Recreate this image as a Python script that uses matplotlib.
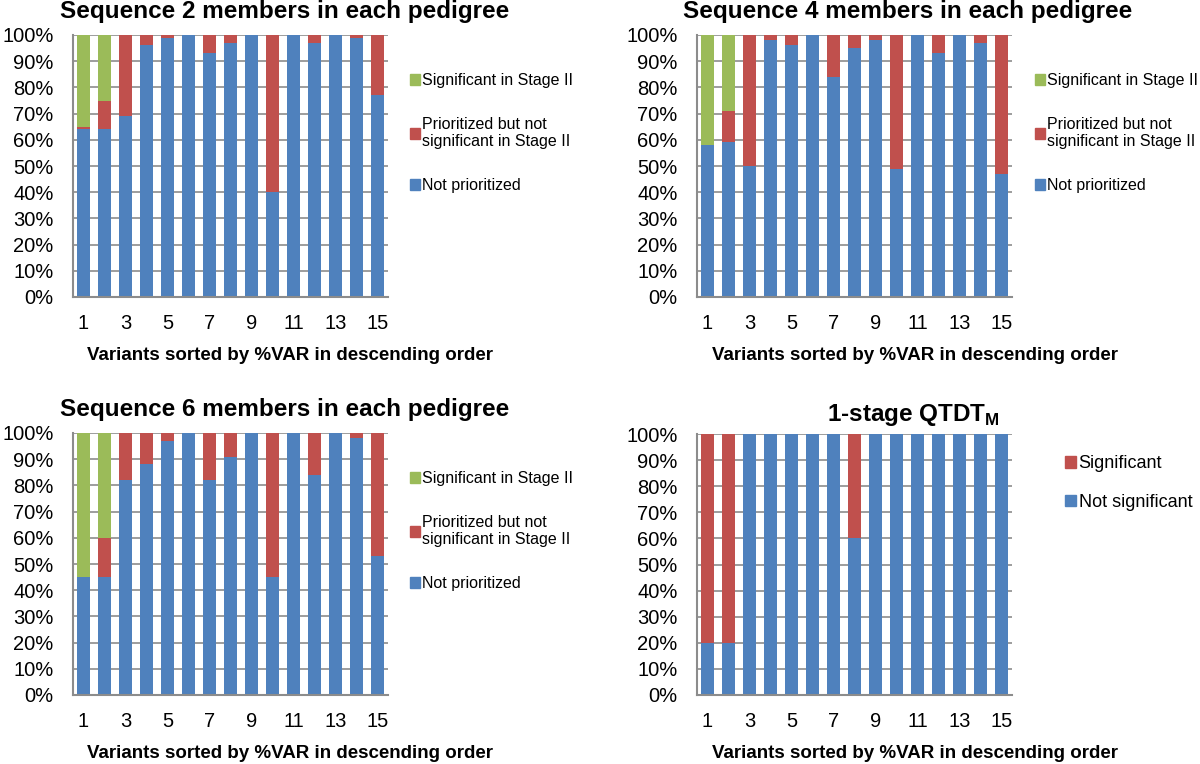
import numpy as np
import matplotlib
matplotlib.use("Agg")
import matplotlib.pyplot as plt
from matplotlib.patches import Patch

plt.rcParams["font.family"] = ["Liberation Sans", "DejaVu Sans"]
plt.rcParams["mathtext.fontset"] = "custom"
plt.rcParams["mathtext.bf"] = "Liberation Sans:bold"

# data: percentage per variant (1..15)
variants = np.arange(1, 16)

seq2_not_prior = [64, 64, 69, 96, 99, 100, 93, 97, 100, 40, 100, 97, 100, 99, 77]
seq2_prior_ns = [1, 11, 31, 4, 1, 0, 7, 3, 0, 60, 0, 3, 0, 1, 23]
seq2_sig = [35, 25, 0, 0, 0, 0, 0, 0, 0, 0, 0, 0, 0, 0, 0]

seq4_not_prior = [58, 59, 50, 98, 96, 100, 84, 95, 98, 49, 100, 93, 100, 97, 47]
seq4_prior_ns = [0, 12, 50, 2, 4, 0, 16, 5, 2, 51, 0, 7, 0, 3, 53]
seq4_sig = [42, 29, 0, 0, 0, 0, 0, 0, 0, 0, 0, 0, 0, 0, 0]

seq6_not_prior = [45, 45, 82, 88, 97, 100, 82, 91, 100, 45, 100, 84, 100, 98, 53]
seq6_prior_ns = [0, 15, 18, 12, 3, 0, 18, 9, 0, 55, 0, 16, 0, 2, 47]
seq6_sig = [55, 40, 0, 0, 0, 0, 0, 0, 0, 0, 0, 0, 0, 0, 0]

qtdt_not_sig = [20, 20, 100, 100, 100, 100, 100, 60, 100, 100, 100, 100, 100, 100, 100]
qtdt_sig = [80, 80, 0, 0, 0, 0, 0, 40, 0, 0, 0, 0, 0, 0, 0]

titles = [
    "Sequence 2 members in each pedigree",
    "Sequence 4 members in each pedigree",
    "Sequence 6 members in each pedigree",
    r"1-stage QTDT$_{\mathbf{M}}$",
]
xlabel = "Variants sorted by %VAR in descending order"

BLUE = "#4F81BD"
RED = "#C0504D"
GREEN = "#9BBB59"
GRID = "#8C8C8C"

W, H = 1200, 764
fig = plt.figure(figsize=(12, 7.64), dpi=100)


def px_axes(left, top, right, bottom):
    return fig.add_axes([left / W, 1 - bottom / H, (right - left) / W, (bottom - top) / H])


def fig_xy(x, y):
    return x / W, 1 - y / H


def style_axes(ax):
    ax.set_xlim(0.5, 15.5)
    ax.set_ylim(0, 100)
    ax.set_yticks(np.arange(0, 101, 10))
    ax.set_yticklabels([f"{v}%" for v in range(0, 101, 10)])
    ax.set_xticks(variants[::2])
    ax.tick_params(axis="both", labelsize=14.5, length=0, colors="black")
    ax.tick_params(axis="x", pad=12)
    ax.tick_params(axis="y", pad=14)
    ax.yaxis.grid(True, color=GRID, linewidth=1.2)
    ax.set_axisbelow(True)
    for s in ("top", "right"):
        ax.spines[s].set_visible(False)
    for s in ("left", "bottom"):
        ax.spines[s].set_color(GRID)
        ax.spines[s].set_linewidth(1.5)


boxes = [
    (73, 35, 388, 297),
    (697, 35, 1012, 297),
    (73, 433, 388, 695),
    (697, 434, 1012, 695),
]
title_pos = [(60, 18), (683, 18), (60, 416), (827, 421)]
xlabel_pos = [(290, 360), (915, 360), (290, 758), (915, 758)]
legend_pos = [(410, 133), (1035, 133), (410, 531)]
bw = 0.62

stage_data = [
    (seq2_not_prior, seq2_prior_ns, seq2_sig),
    (seq4_not_prior, seq4_prior_ns, seq4_sig),
    (seq6_not_prior, seq6_prior_ns, seq6_sig),
]
stage_legend = [
    Patch(color=GREEN, label="Significant in Stage II"),
    Patch(color=RED, label="Prioritized but not\nsignificant in Stage II"),
    Patch(color=BLUE, label="Not prioritized"),
]

for i, (npv, pns, sig) in enumerate(stage_data):
    ax = px_axes(*boxes[i])
    ax.bar(variants, npv, width=bw, color=BLUE)
    ax.bar(variants, pns, width=bw, bottom=npv, color=RED)
    ax.bar(variants, sig, width=bw, bottom=np.add(npv, pns), color=GREEN)
    style_axes(ax)
    fig.legend(handles=stage_legend, loc="center left",
               bbox_to_anchor=fig_xy(*legend_pos[i]), bbox_transform=fig.transFigure,
               frameon=False, fontsize=11.5, handlelength=0.62, handleheight=0.62,
               handletextpad=0.12, labelspacing=1.8, borderpad=0, borderaxespad=0)

ax = px_axes(*boxes[3])
ax.bar(variants, qtdt_not_sig, width=bw, color=BLUE)
ax.bar(variants, qtdt_sig, width=bw, bottom=qtdt_not_sig, color=RED)
style_axes(ax)
fig.legend(handles=[Patch(color=RED, label="Significant"),
                    Patch(color=BLUE, label="Not significant")],
           loc="center left", bbox_to_anchor=fig_xy(1065, 483), bbox_transform=fig.transFigure,
           frameon=False, fontsize=13, handlelength=0.6, handleheight=0.6,
           handletextpad=0.15, labelspacing=1.2, borderpad=0, borderaxespad=0)

for i in range(4):
    fig.text(*fig_xy(*title_pos[i]), titles[i], fontsize=17.5, fontweight="bold",
             ha="left", va="baseline")
    fig.text(*fig_xy(*xlabel_pos[i]), xlabel, fontsize=13.5, fontweight="bold",
             ha="center", va="baseline")

fig.savefig("out.png", dpi=100)
